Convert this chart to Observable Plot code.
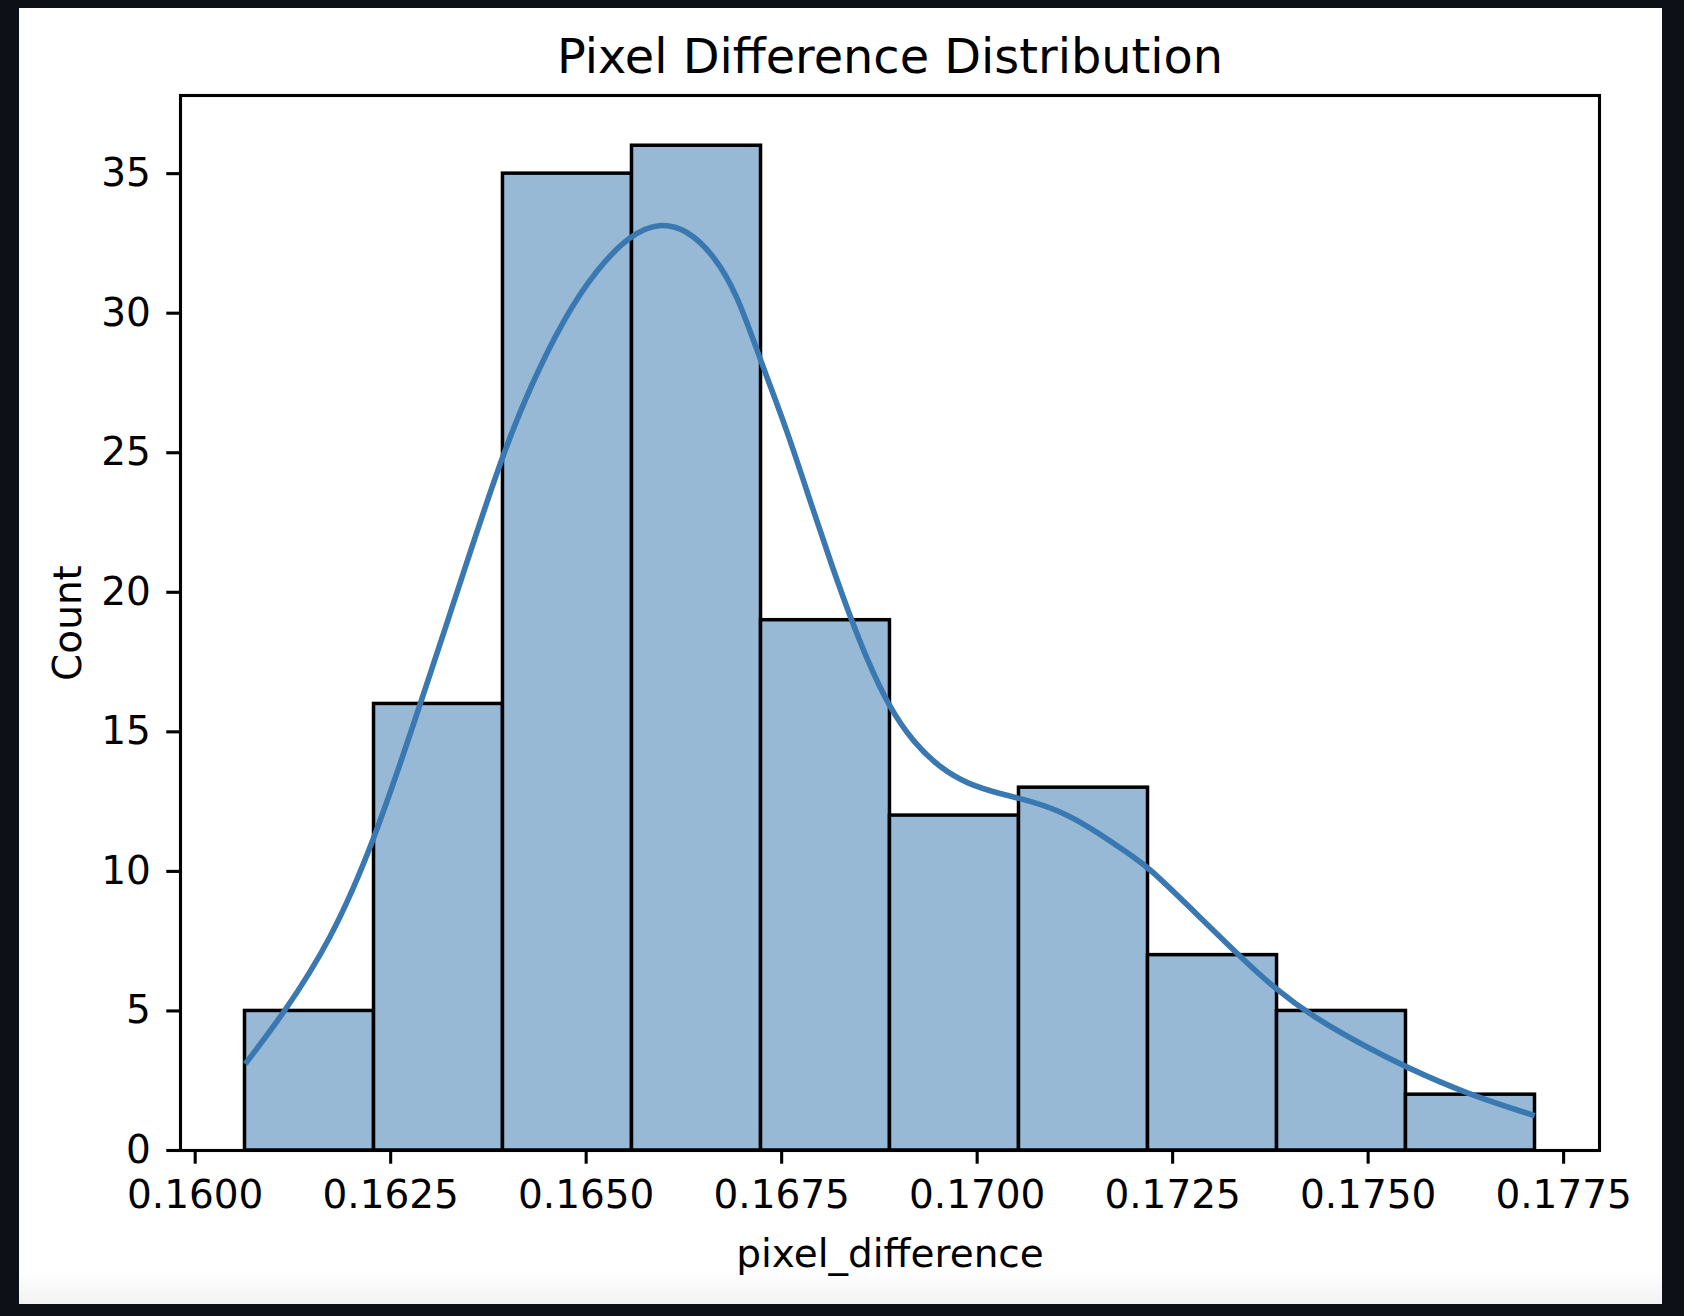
<!DOCTYPE html>
<html>
<head>
<meta charset="utf-8">
<script src="https://cdn.jsdelivr.net/npm/d3@7"></script>
<script src="https://cdn.jsdelivr.net/npm/@observablehq/plot@0.6"></script>
<style>
  html, body { margin: 0; padding: 0; background: #0d1117; width: 1684px; height: 1316px; overflow: hidden; }
  #fig {
    position: absolute; left: 19px; top: 8px; width: 1643px; height: 1296px;
    background: linear-gradient(to bottom, #ffffff 0px, #ffffff 1262px, #f2f2f2 1296px);
  }
  #fig svg { display: block; }
</style>
</head>
<body>
<div id="fig"></div>
<script>
// Histogram bin edges (pixel_difference) and counts
const binEdges = [0.160637, 0.162287, 0.163936, 0.165586, 0.167236, 0.168885, 0.170535, 0.172185, 0.173835, 0.175484, 0.177134];
const counts = [5, 16, 35, 36, 19, 12, 13, 7, 5, 2];

// KDE curve (scaled to counts)
const kdeX = [0.16064, 0.16113, 0.16173, 0.16228, 0.16288, 0.16322, 0.16350, 0.16394, 0.16429, 0.16471,
              0.16514, 0.16556, 0.16593, 0.16629, 0.16663, 0.16693, 0.16723, 0.16757, 0.16786, 0.16816,
              0.16838, 0.16859, 0.16887, 0.16919, 0.16953, 0.16987, 0.17029, 0.17072, 0.17115, 0.17157,
              0.17200, 0.17217, 0.17285, 0.17340, 0.17383, 0.17430, 0.17498, 0.17549, 0.17626, 0.17713];
const kdeY = [3.10, 4.9, 7.5, 11.0, 16.0, 18.9, 21.3, 25.0, 27.4, 29.8,
              31.6, 32.8, 33.25, 33.0, 32.1, 30.7, 28.3, 25.8, 23.3, 20.8,
              19.1, 17.6, 15.9, 14.6, 13.7, 13.14, 12.78, 12.5, 12.06, 11.35,
              10.51, 10.2, 8.36, 6.85, 5.75, 4.78, 3.70, 2.98, 2.03, 1.25];

// Tick values
const xTicks = [0.1600, 0.1625, 0.1650, 0.1675, 0.1700, 0.1725, 0.1750, 0.1775];
const yTicks = [0, 5, 10, 15, 20, 25, 30, 35];

const title = "Pixel Difference Distribution";
const xLabel = "pixel_difference";
const yLabel = "Count";

const bins = counts.map((c, i) => ({x1: binEdges[i], x2: binEdges[i + 1], count: c}));
const kde = kdeX.map((x, i) => ({x, y: kdeY[i]}));

const xMin = binEdges[0], xMax = binEdges[binEdges.length - 1];
const pad = (xMax - xMin) * 0.05;
const yMax = d3.max(counts) * 1.05;

const chart = Plot.plot({
  width: 1643,
  height: 1296,
  marginLeft: 161,
  marginRight: 63,
  marginTop: 87,
  marginBottom: 154,
  style: {fontFamily: "DejaVu Sans", fontSize: "39px", background: "transparent", color: "black"},
  x: {domain: [xMin - pad, xMax + pad]},
  y: {domain: [0, yMax]},
  marks: [
    Plot.rectY(bins, {x1: "x1", x2: "x2", y1: 0, y2: "count", fill: "#97b9d6", stroke: "black", strokeWidth: 3.5}),
    Plot.line(kde, {x: "x", y: "y", stroke: "#3a78b1", strokeWidth: 5.6, curve: "basis", strokeLinecap: "butt"}),
    Plot.frame({stroke: "black", strokeWidth: 3.1}),
    Plot.axisX({ticks: xTicks, tickFormat: d => d.toFixed(4), tickSize: 13.7, tickPadding: 16, fontSize: 39, strokeWidth: 3.1, label: null}),
    Plot.axisY({ticks: yTicks, tickFormat: d => String(d), tickSize: 13.7, tickPadding: 16, fontSize: 39, strokeWidth: 3.1, label: null}),
    Plot.text([title], {frameAnchor: "top", lineAnchor: "middle", textAnchor: "middle", dy: -38, fontSize: 47.8, text: d => d, fill: "black"}),
    Plot.text([xLabel], {frameAnchor: "bottom", lineAnchor: "middle", textAnchor: "middle", dy: 104, fontSize: 39, text: d => d, fill: "black"}),
    Plot.text([yLabel], {frameAnchor: "left", lineAnchor: "middle", textAnchor: "middle", dx: -112, rotate: -90, fontSize: 39, text: d => d, fill: "black"})
  ]
});
document.getElementById("fig").appendChild(chart);
</script>
</body>
</html>
